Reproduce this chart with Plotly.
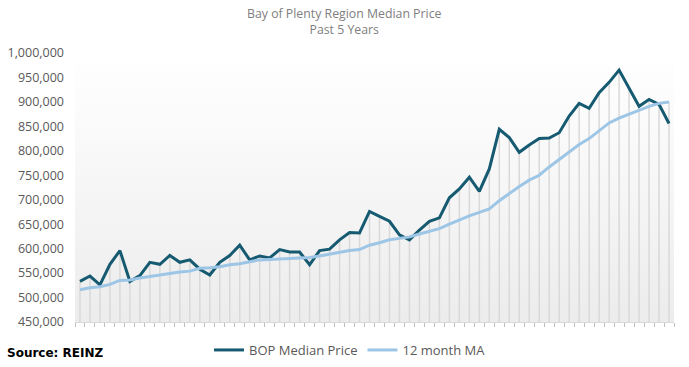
import plotly.graph_objects as go

# Monthly values, past 5 years (60 months)
median_price = [533000, 544000, 526000, 568000, 596000, 533000, 545000, 572000, 568000, 586000,
                572000, 577000, 558000, 546000, 572000, 586000, 607000, 577000, 585000, 581000,
                598000, 593000, 593000, 567000, 596000, 599000, 618000, 633000, 632000, 676000,
                666000, 656000, 628000, 618000, 638000, 656000, 663000, 704000, 722000, 746000,
                717000, 763000, 844000, 827000, 797000, 812000, 825000, 826000, 837000, 871000,
                897000, 887000, 919000, 940000, 965000, 928000, 891000, 905000, 895000, 856000]
ma_12 = [516000, 520000, 522000, 527000, 535000, 536000, 540000, 543000, 546000, 550000,
         552000, 554000, 560000, 561000, 563000, 567000, 569000, 573000, 577000, 578000,
         579000, 580000, 581000, 582000, 585000, 589000, 593000, 596000, 598000, 607000,
         612000, 618000, 621000, 624000, 630000, 636000, 641000, 650000, 659000, 667000,
         674000, 681000, 698000, 713000, 727000, 740000, 750000, 767000, 782000, 797000,
         813000, 825000, 842000, 857000, 867000, 875000, 883000, 891000, 897000, 900000]
months = list(range(len(median_price)))

Y_MIN, Y_MAX, Y_STEP = 450000, 1000000, 50000
X_MIN, X_MAX = -0.5, len(months) - 0.5

DARK = "#155a71"
LIGHT = "#9dc6e6"
FONT = "Open Sans"

W, H = 689, 367
ML, MR, MT, MB = 75, 15, 53, 45
PH = H - MT - MB
PW = W - ML - MR


def py(pix):  # pixel row -> paper y
    return (H - MB - pix) / PH


def px(pix):  # pixel column -> paper x
    return (pix - ML) / PW


fig = go.Figure()

# plot-area background gradient
fig.add_trace(go.Scatter(
    x=[X_MIN, X_MAX, X_MAX, X_MIN, X_MIN],
    y=[Y_MIN, Y_MIN, Y_MAX, Y_MAX, Y_MIN],
    fill="toself", mode="none",
    fillgradient=dict(type="vertical", colorscale=[[0, "#ececec"], [0.55, "#f7f7f7"], [1, "#ffffff"]]),
    hoverinfo="skip", showlegend=False))

# drop lines from highest point to axis
dx, dy = [], []
for m, a, b in zip(months, median_price, ma_12):
    dx += [m, m, None]
    dy += [Y_MIN, max(a, b), None]
fig.add_trace(go.Scatter(x=dx, y=dy, mode="lines",
                         line=dict(color="#d9d9d9", width=1.5),
                         hoverinfo="skip", showlegend=False))

fig.add_trace(go.Scatter(x=months, y=median_price, mode="lines", name="BOP Median Price",
                         line=dict(color=DARK, width=3)))
fig.add_trace(go.Scatter(x=months, y=ma_12, mode="lines", name="12 month MA",
                         line=dict(color=LIGHT, width=3)))

fig.update_layout(
    width=W, height=H,
    margin=dict(l=ML, r=MR, t=MT, b=MB, autoexpand=False),
    paper_bgcolor="white", plot_bgcolor="white",
    font=dict(family=FONT, color="#595959", size=13),
    legend=dict(orientation="h", xref="container", x=0.508, xanchor="center",
                yref="container", y=(H - 350) / H, yanchor="middle",
                font=dict(family=FONT, size=13, color="#595959"),
                itemwidth=30, tracegroupgap=0),
    showlegend=True,
)

fig.add_annotation(text="Bay of Plenty Region Median Price<br>Past 5 Years",
                   xref="paper", yref="paper", x=px(W / 2), y=py(21.5),
                   xanchor="center", yanchor="middle", showarrow=False,
                   font=dict(family=FONT, size=12.3, color="#808080"))

fig.update_xaxes(range=[X_MIN, X_MAX], showgrid=False, zeroline=False, automargin=False,
                 showline=True, linecolor="#d9d9d9", linewidth=1,
                 tickmode="array", tickvals=[m - 0.5 for m in months] + [X_MAX],
                 ticks="outside", ticklen=4, tickcolor="#bfbfbf", tickwidth=1,
                 showticklabels=False)
fig.update_yaxes(range=[Y_MIN, Y_MAX], dtick=Y_STEP, tick0=Y_MIN, tickformat=",d",
                 showgrid=False, zeroline=False, showline=False, automargin=False,
                 ticks="", ticklabelstandoff=10,
                 tickfont=dict(family=FONT, size=12.5, color="#595959"))

fig.add_annotation(text="<b>Source: REINZ</b>", xref="paper", yref="paper",
                   x=px(5), xanchor="left", y=py(353), yanchor="middle",
                   showarrow=False,
                   font=dict(family="DejaVu Sans", size=12, color="#000000"))

fig.write_html("out.html", config={"displayModeBar": False},
               post_script="document.body.style.margin='0';document.body.style.padding='0';")
